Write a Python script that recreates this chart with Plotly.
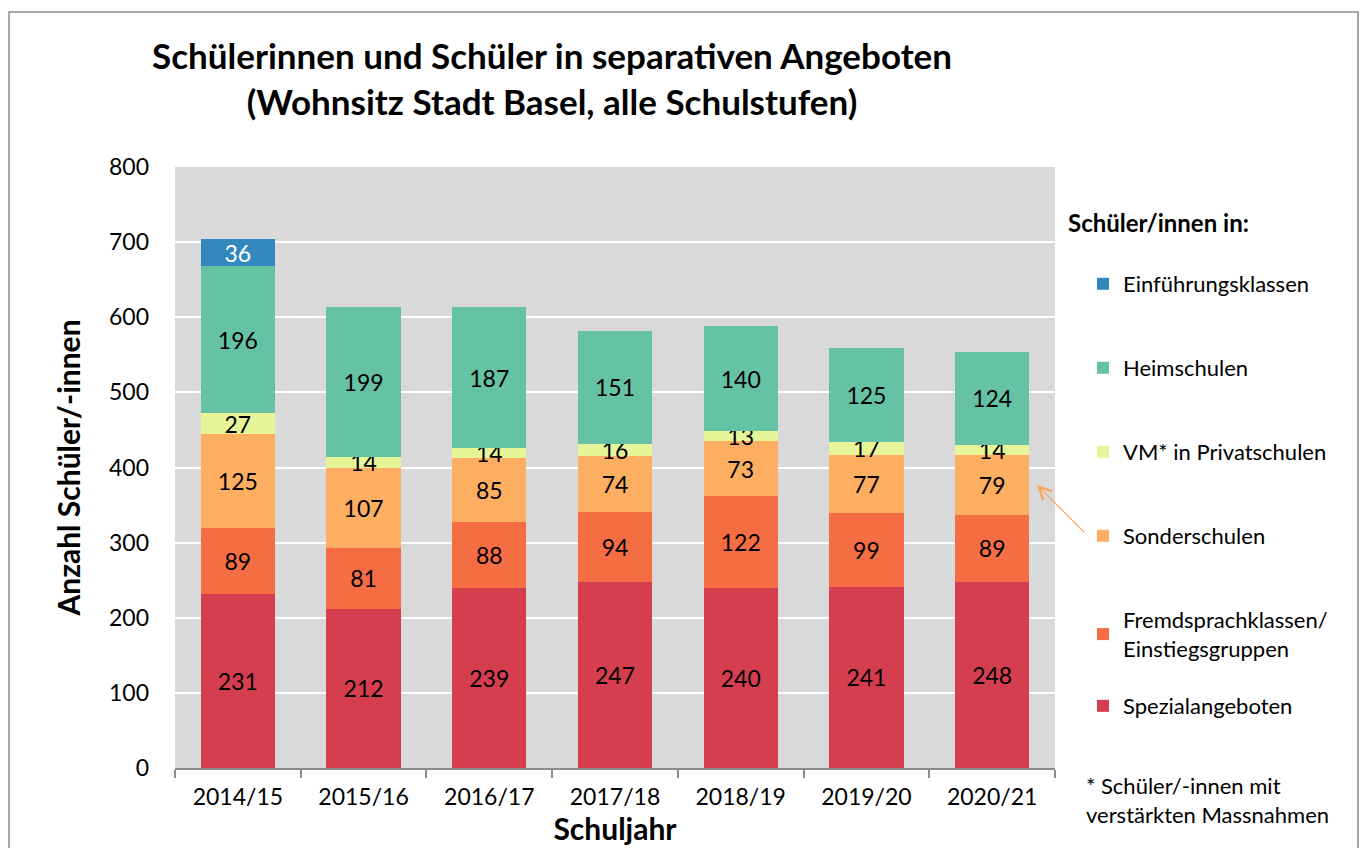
import plotly.graph_objects as go

years = ["2014/15", "2015/16", "2016/17", "2017/18", "2018/19", "2019/20", "2020/21"]
spezial = [231, 212, 239, 247, 240, 241, 248]
fremd = [89, 81, 88, 94, 122, 99, 89]
sonder = [125, 107, 85, 74, 73, 77, 79]
vm = [27, 14, 14, 16, 13, 17, 14]
heim = [196, 199, 187, 151, 140, 125, 124]
einf = [36, None, None, None, None, None, None]

# name, values, colour, label colour, legend, legend rank
series = [
    ("Spezialangeboten", spezial, "#d53e4f", "black", "legend2", 6),
    ("Fremdsprachklassen/<br>Einstiegsgruppen", fremd, "#f46d43", "black", "legend", 5),
    ("Sonderschulen", sonder, "#fdae61", "black", "legend", 4),
    ("VM* in Privatschulen", vm, "#e6f598", "black", "legend", 3),
    ("Heimschulen", heim, "#66c2a5", "black", "legend", 2),
    ("Einführungsklassen", einf, "#3288bd", "white", "legend", 1),
]

FONT = "Lato"
fig = go.Figure()
for i, (name, vals, col, tcol, leg, rank) in enumerate(series):
    fig.add_trace(go.Bar(
        x=years, y=vals, name=name, marker_color=col, marker_line_width=0,
        text=[("" if v is None else str(v)) for v in vals],
        textposition="inside", insidetextanchor="middle", textangle=0,
        textfont=dict(color=tcol, size=23, family=FONT),
        legendgroup=f"g{i}", legend=leg, legendrank=rank, hoverinfo="skip",
    ))

L, R, T, B = 175, 311, 167, 80
W, H = 1366, 848
pw, ph = W - L - R, H - T - B

def px_x(px):
    return (px - L) / pw

def px_y(py):
    return (H - B - py) / ph

fig.update_layout(
    width=W, height=H, barmode="stack", bargap=0.41,
    margin=dict(l=L, r=R, t=T, b=B),
    paper_bgcolor="white", plot_bgcolor="#d9d9d9",
    font=dict(family=FONT, color="black"),
    uniformtext=dict(minsize=23, mode="show"),
    title=dict(
        text="<b>Schülerinnen und Schüler in separativen Angeboten<br>(Wohnsitz Stadt Basel, alle Schulstufen)</b>",
        x=552 / W, xref="container", xanchor="center",
        y=1 - 69 / H, yref="container", yanchor="middle",
        font=dict(size=35, family=FONT),
    ),
    legend=dict(
        x=px_x(1083), y=px_y(263), xanchor="left", yanchor="top",
        traceorder="grouped", tracegroupgap=52.4,
        font=dict(size=22, family=FONT), bgcolor="rgba(0,0,0,0)",
    ),
    legend2=dict(
        x=px_x(1083), y=px_y(685), xanchor="left", yanchor="top",
        font=dict(size=22, family=FONT), bgcolor="rgba(0,0,0,0)",
    ),
    yaxis=dict(
        range=[0, 800], dtick=100, showgrid=True, gridcolor="white", gridwidth=2,
        zeroline=False, showline=False, ticks="", ticklabelstandoff=25,
        tickfont=dict(size=23, family=FONT),
        title=dict(text="<b>Anzahl Schüler/-innen</b>", font=dict(size=30, family=FONT), standoff=19),
    ),
    xaxis=dict(
        showline=True, linecolor="#8c8c8c", linewidth=1.5,
        ticks="outside", tickson="boundaries", ticklen=8, tickcolor="#8c8c8c", tickwidth=1.5,
        tickfont=dict(size=23, family=FONT), ticklabelstandoff=8,
        title=dict(text="<b>Schuljahr</b>", font=dict(size=30, family=FONT), standoff=5),
    ),
    shapes=[dict(
        type="rect", xref="paper", yref="paper",
        x0=px_x(9), x1=px_x(1358), y0=px_y(860), y1=px_y(12),
        line=dict(color="#8c8c8c", width=1.5), fillcolor="rgba(0,0,0,0)", layer="below",
    )],
    annotations=[
        dict(text="<b>Schüler/innen in:</b>", x=px_x(1066), y=px_y(222), xref="paper", yref="paper",
             xanchor="left", yanchor="middle", showarrow=False, font=dict(size=24, family=FONT)),
        dict(text="* Schüler/-innen mit<br>verstärkten Massnahmen", x=px_x(1084), y=px_y(800),
             xref="paper", yref="paper", xanchor="left", yanchor="middle", align="left",
             showarrow=False, font=dict(size=22, family=FONT)),
        dict(text="", x=px_x(1037), y=px_y(485), xref="paper", yref="paper",
             ax=49, ay=49, showarrow=True, arrowhead=5, arrowsize=2, arrowwidth=1.2,
             arrowcolor="#f9a65a"),
    ],
)

fig.write_html("out.html", post_script="document.body.style.margin='0';",
               config={"displayModeBar": False})
